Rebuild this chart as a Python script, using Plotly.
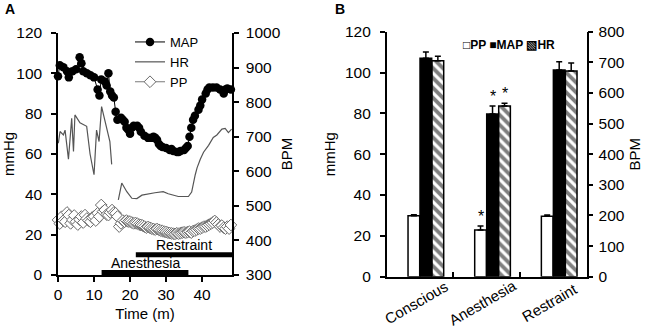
import plotly.graph_objects as go

# ---------------- Panel A data ----------------
map_time = [0, 0.5, 1.5, 2.5, 3, 4, 5, 6, 6.5, 7, 8, 9, 10, 11, 11.5, 12, 13, 13.5, 14, 14.5,
            15, 15.5, 16, 16.5, 17.5, 18, 18.5, 19, 19.5, 20, 20.5, 21, 22, 22.5, 23, 24, 25,
            26, 26.5, 27, 27.5, 28, 28.5, 29, 30, 31, 31.5, 32, 33, 33.5, 34, 35, 35.5, 36,
            36.5, 37, 37.5, 38, 39, 39.5, 40, 41, 41.5, 42, 43, 44, 45, 46, 46.5, 47, 48]
map_mmhg = [98.5, 104, 103, 101, 98, 101, 102, 108, 105, 101, 100, 99, 98, 92, 89, 97, 96, 94,
            100, 91, 89, 88, 81, 77, 78, 77, 76, 73, 72, 70, 73, 74, 74, 73, 71, 69, 68, 68,
            68.5, 68, 67, 65, 64, 63.5, 63, 62, 62.5, 61.5, 61, 61, 61.5, 62, 63, 64, 68.5, 73,
            77, 79, 82, 84, 87, 90, 92, 93, 93, 93, 92, 90, 92, 92.5, 92]

hr_time = [0.1, 0.56, 1.5, 1.96, 2.9, 3.8, 4.3, 4.7, 6.1, 7.96, 8.9, 10.0, 10.7, 11.4, 12.1,
           13.3, 14.4, 14.9, 15.8, 16.75, 17.7, 19.1, 20.5, 21.9, 23.3, 26.9, 29.2, 30.6,
           33.4, 36.2, 37.1, 38.1, 38.6, 39.5, 40.4, 41.8, 43.1, 44.1, 45.5, 46.4, 47.3, 48.2]
hr_bpm = [681, 715, 705, 719, 635, 753, 657, 763, 740, 730, 650, 590, 719, 686, 787, 730, 686,
          620, None, 517, 566, 541, 522, 521, 531, 538, 541, 535, 527, 527, 540, 590, 610, 635,
          655, 675, 698, 705, 722, 724, 712, 722]

pp_time = [i * 0.5 for i in range(97)]
pp_mmhg = [27.3, 25.5, 28.9, 27, 26.4, 31, 29.7, 25.6, 27.3, 29.5, 26.4, 25, 27.5, 29, 26, 29.7,
           28, 27, 26.4, 28.5, 29, 27, 30.6, 29, 34.7, 31.5, 32.2, 30, 29.7, 31, 32.2, 31, 30.6,
           29, 24, 25.6, 27, 26.4, 27, 26.5, 26.5, 26, 25.6, 25.8, 25.5, 25, 24.8, 24.5, 24,
           23.5, 23.8, 23.4, 23, 22.8, 22.5, 22.8, 22.4, 22, 21.8, 21.5, 21.3, 21, 20.8, 20.6,
           20.5, 20.4, 20.7, 20.5, 20.8, 21, 21.2, 21, 21.3, 21.5, 21, 21.8, 22, 22.5, 23, 23,
           23.5, 24, 24, 24.5, 25, 25.5, 26, 26.8, 26, 25, 24, 24.5, 23.5, 23, 24, 23, 24.8]

phase_names = ["Anesthesia", "Restraint"]
phase_start = [12.1, 21.6]
phase_end = [36.2, 48.3]
phase_level = [1.2, 10]

# ---------------- Panel B data ----------------
conditions = ["Conscious", "Anesthesia", "Restraint"]
series_names = ["PP", "MAP", "HR"]
pp_mean = [29.8, 22.9, 29.6]
pp_err = [0.5, 1.9, 0.6]
map_mean = [107, 79.7, 101.2]
map_err = [3, 3.9, 4.1]
hr_mean = [705, 557, 672]
hr_err = [15, 9, 26]
significant = [False, True, False]

FONT = "Liberation Sans, Arial, sans-serif"

fig = go.Figure()

# Panel A traces
fig.add_trace(go.Scatter(x=map_time, y=map_mmhg, name="MAP", mode="lines+markers",
                         line=dict(color="black", width=1),
                         marker=dict(symbol="circle", size=8.5, color="black"),
                         xaxis="x", yaxis="y", legend="legend", cliponaxis=False))
fig.add_trace(go.Scatter(x=hr_time, y=hr_bpm, name="HR", mode="lines",
                         line=dict(color="#555555", width=1.2), connectgaps=False,
                         xaxis="x", yaxis="y2", legend="legend"))
fig.add_trace(go.Scatter(x=pp_time, y=pp_mmhg, name="PP", mode="lines+markers",
                         line=dict(color="#7a7a7a", width=1),
                         marker=dict(symbol="diamond", size=9, color="white",
                                     line=dict(color="#6a6a6a", width=1)),
                         xaxis="x", yaxis="y", legend="legend", cliponaxis=False))
for name, s, e, lv in zip(phase_names, phase_start, phase_end, phase_level):
    fig.add_trace(go.Scatter(x=[s, e], y=[lv, lv], mode="lines",
                             line=dict(color="black", width=5), showlegend=False,
                             xaxis="x", yaxis="y", cliponaxis=False))
    fig.add_annotation(x=(s + e) / 2, y=lv, xref="x", yref="y", text=name,
                       showarrow=False, yanchor="bottom", yshift=0,
                       font=dict(family=FONT, size=14, color="black"))

# Panel B traces
W = 0.175
OFF = [-0.18, 0.0, 0.18]


def errs(arr):
    return dict(type="data", array=arr, arrayminus=[0] * len(arr), symmetric=False,
                color="black", thickness=1.5, width=3)


fig.add_trace(go.Bar(x=conditions, y=pp_mean, name="PP", width=W, offset=OFF[0],
                     marker=dict(color="white", line=dict(color="black", width=1.5)),
                     error_y=errs(pp_err), xaxis="x2", yaxis="y3", showlegend=False))
fig.add_trace(go.Bar(x=conditions, y=map_mean, name="MAP", width=W, offset=OFF[1],
                     marker=dict(color="black", line=dict(color="black", width=1.5)),
                     error_y=errs(map_err), xaxis="x2", yaxis="y3", showlegend=False))
fig.add_trace(go.Bar(x=conditions, y=hr_mean, name="HR", width=W, offset=OFF[2],
                     marker=dict(color="white", line=dict(color="black", width=1.5),
                                 pattern=dict(shape="\\", fgcolor="black", bgcolor="white",
                                              size=7, solidity=0.55)),
                     error_y=errs(hr_err), xaxis="x2", yaxis="y4", showlegend=False))

# significance asterisks
for i, sig in enumerate(significant):
    if sig:
        for off, top, yr in ((OFF[0], pp_mean[i] + pp_err[i], "y3"),
                             (OFF[1], map_mean[i] + map_err[i], "y3"),
                             (OFF[2], hr_mean[i] + hr_err[i], "y4")):
            fig.add_annotation(x=i + off + W / 2, y=top, xref="x2", yref=yr,
                               text="*", showarrow=False, yanchor="bottom", yshift=-1,
                               font=dict(family=FONT, size=16, color="black"))

# category labels (rotated, centred under each group)
for c in conditions:
    fig.add_annotation(x=c, y=1 - 302 / 330, xref="x2", yref="paper", text=c,
                       textangle=-30, showarrow=False, xanchor="center", yanchor="middle",
                       xshift=-4, font=dict(family=FONT, size=15, color="black"))

# compact legend for panel B
legend_glyph = {"PP": "\u25a1", "MAP": "\u25a0", "HR": "\u25a7"}
legend_text = " ".join(legend_glyph[n] + n for n in series_names)
fig.add_annotation(x=509 / 649, y=1 - 45 / 330, xref="paper", yref="paper",
                   text="<b>" + legend_text + "</b>", showarrow=False,
                   xanchor="center", yanchor="middle",
                   font=dict(family=FONT, size=12, color="black"))

# Panel labels
fig.add_annotation(x=10 / 649, y=1 - 9 / 330, xref="paper", yref="paper", text="<b>A</b>",
                   showarrow=False, xanchor="center", yanchor="middle",
                   font=dict(family=FONT, size=14, color="black"))
fig.add_annotation(x=340 / 649, y=1 - 9 / 330, xref="paper", yref="paper", text="<b>B</b>",
                   showarrow=False, xanchor="center", yanchor="middle",
                   font=dict(family=FONT, size=14, color="black"))

axis_common = dict(showline=True, linecolor="black", linewidth=1.5, ticks="outside",
                   ticklen=5, tickwidth=1.5, tickcolor="black", showgrid=False, zeroline=False,
                   automargin=False,
                   tickfont=dict(family=FONT, size=15.5, color="black"))
title_font = dict(family=FONT, size=15, color="black")

fig.update_layout(
    width=649, height=330, margin=dict(l=0, r=0, t=0, b=0, autoexpand=False),
    paper_bgcolor="white", plot_bgcolor="white", barmode="overlay",
    font=dict(family=FONT, color="black"),
    xaxis=dict(domain=[58 / 649, 232 / 649], range=[0, 48.3], tickvals=[0, 10, 20, 30, 40],
               anchor="y", title=dict(text="Time (m)", font=title_font, standoff=6),
               **axis_common),
    yaxis=dict(domain=[55 / 330, 297 / 330], range=[0, 120], dtick=20, anchor="x",
               ticklabelstandoff=6,
               title=dict(text="mmHg", font=title_font, standoff=6), **axis_common),
    yaxis2=dict(overlaying="y", side="right", anchor="x", range=[300, 1000], dtick=100,
                ticklabelstandoff=4,
                title=dict(text="BPM", font=title_font, standoff=2), **axis_common),
    xaxis2=dict(domain=[386.7 / 649, 586.7 / 649], type="category", anchor="y3",
                range=[-0.5, 2.5], tickson="boundaries", showline=True, linecolor="black",
                linewidth=1.5, ticks="inside", ticklen=5, tickwidth=1.5, tickcolor="black",
                showgrid=False, zeroline=False, showticklabels=False, automargin=False),
    yaxis3=dict(domain=[1 - 276.7 / 330, 1 - 31.7 / 330], range=[0, 120], dtick=20,
                anchor="x2", ticklabelstandoff=6,
                title=dict(text="mmHg", font=title_font, standoff=6), **axis_common),
    yaxis4=dict(overlaying="y3", side="right", anchor="x2", range=[0, 800], dtick=100,
                ticklabelstandoff=2,
                title=dict(text="BPM", font=title_font, standoff=6), **axis_common),
    legend=dict(x=130 / 649, y=1 - 27 / 330, xanchor="left", yanchor="top",
                bgcolor="rgba(0,0,0,0)", font=dict(family=FONT, size=13, color="black"),
                tracegroupgap=0, itemwidth=30, traceorder="normal"),
)

fig.write_html(
    "out.html",
    config={"displayModeBar": False},
    post_script="document.body.style.margin='0';document.body.style.overflow='hidden';",
)
